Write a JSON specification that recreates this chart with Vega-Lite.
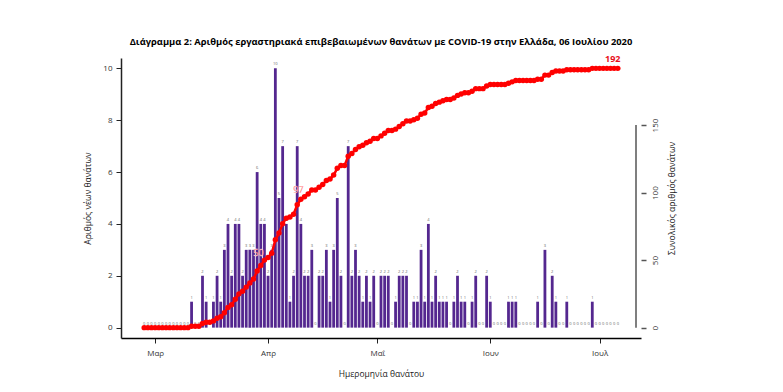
{
  "$schema": "https://vega.github.io/schema/vega-lite/v6.json",
  "autosize": {"type": "none"},
  "padding": {"left": 121, "top": 58, "right": 142, "bottom": 54},
  "width": 520,
  "height": 280,
  "title": {
    "text": "Διάγραμμα 2: Αριθμός εργαστηριακά επιβεβαιωμένων θανάτων με COVID-19 στην Ελλάδα, 06 Ιουλίου 2020",
    "font": "Open Sans",
    "fontSize": 9.4,
    "fontWeight": "bold",
    "color": "#000",
    "anchor": "middle",
    "offset": 8
  },
  "data": {
    "values": [
      {"d": "2020-02-27", "n": 0, "c": 0, "lab": ""},
      {"d": "2020-02-28", "n": 0, "c": 0, "lab": ""},
      {"d": "2020-02-29", "n": 0, "c": 0, "lab": ""},
      {"d": "2020-03-01", "n": 0, "c": 0, "lab": ""},
      {"d": "2020-03-02", "n": 0, "c": 0, "lab": ""},
      {"d": "2020-03-03", "n": 0, "c": 0, "lab": ""},
      {"d": "2020-03-04", "n": 0, "c": 0, "lab": ""},
      {"d": "2020-03-05", "n": 0, "c": 0, "lab": ""},
      {"d": "2020-03-06", "n": 0, "c": 0, "lab": ""},
      {"d": "2020-03-07", "n": 0, "c": 0, "lab": ""},
      {"d": "2020-03-08", "n": 0, "c": 0, "lab": ""},
      {"d": "2020-03-09", "n": 0, "c": 0, "lab": ""},
      {"d": "2020-03-10", "n": 0, "c": 0, "lab": ""},
      {"d": "2020-03-11", "n": 1, "c": 1, "lab": ""},
      {"d": "2020-03-12", "n": 0, "c": 1, "lab": ""},
      {"d": "2020-03-13", "n": 0, "c": 1, "lab": ""},
      {"d": "2020-03-14", "n": 2, "c": 3, "lab": ""},
      {"d": "2020-03-15", "n": 1, "c": 4, "lab": ""},
      {"d": "2020-03-16", "n": 0, "c": 4, "lab": ""},
      {"d": "2020-03-17", "n": 1, "c": 5, "lab": ""},
      {"d": "2020-03-18", "n": 2, "c": 7, "lab": ""},
      {"d": "2020-03-19", "n": 1, "c": 8, "lab": ""},
      {"d": "2020-03-20", "n": 3, "c": 11, "lab": ""},
      {"d": "2020-03-21", "n": 4, "c": 15, "lab": ""},
      {"d": "2020-03-22", "n": 2, "c": 17, "lab": ""},
      {"d": "2020-03-23", "n": 4, "c": 21, "lab": ""},
      {"d": "2020-03-24", "n": 4, "c": 25, "lab": ""},
      {"d": "2020-03-25", "n": 2, "c": 27, "lab": ""},
      {"d": "2020-03-26", "n": 3, "c": 30, "lab": ""},
      {"d": "2020-03-27", "n": 3, "c": 33, "lab": ""},
      {"d": "2020-03-28", "n": 3, "c": 36, "lab": ""},
      {"d": "2020-03-29", "n": 6, "c": 42, "lab": ""},
      {"d": "2020-03-30", "n": 4, "c": 46, "lab": ""},
      {"d": "2020-03-31", "n": 4, "c": 50, "lab": "50"},
      {"d": "2020-04-01", "n": 2, "c": 52, "lab": ""},
      {"d": "2020-04-02", "n": 3, "c": 55, "lab": ""},
      {"d": "2020-04-03", "n": 10, "c": 65, "lab": ""},
      {"d": "2020-04-04", "n": 5, "c": 70, "lab": ""},
      {"d": "2020-04-05", "n": 7, "c": 77, "lab": ""},
      {"d": "2020-04-06", "n": 4, "c": 81, "lab": ""},
      {"d": "2020-04-07", "n": 1, "c": 82, "lab": ""},
      {"d": "2020-04-08", "n": 2, "c": 84, "lab": ""},
      {"d": "2020-04-09", "n": 7, "c": 91, "lab": ""},
      {"d": "2020-04-10", "n": 4, "c": 95, "lab": ""},
      {"d": "2020-04-11", "n": 2, "c": 97, "lab": "97"},
      {"d": "2020-04-12", "n": 2, "c": 99, "lab": ""},
      {"d": "2020-04-13", "n": 3, "c": 102, "lab": ""},
      {"d": "2020-04-14", "n": 0, "c": 102, "lab": ""},
      {"d": "2020-04-15", "n": 2, "c": 104, "lab": ""},
      {"d": "2020-04-16", "n": 2, "c": 106, "lab": ""},
      {"d": "2020-04-17", "n": 3, "c": 109, "lab": ""},
      {"d": "2020-04-18", "n": 1, "c": 110, "lab": ""},
      {"d": "2020-04-19", "n": 3, "c": 113, "lab": ""},
      {"d": "2020-04-20", "n": 5, "c": 118, "lab": ""},
      {"d": "2020-04-21", "n": 2, "c": 120, "lab": ""},
      {"d": "2020-04-22", "n": 0, "c": 120, "lab": ""},
      {"d": "2020-04-23", "n": 7, "c": 127, "lab": ""},
      {"d": "2020-04-24", "n": 2, "c": 129, "lab": ""},
      {"d": "2020-04-25", "n": 3, "c": 132, "lab": ""},
      {"d": "2020-04-26", "n": 2, "c": 134, "lab": ""},
      {"d": "2020-04-27", "n": 1, "c": 135, "lab": ""},
      {"d": "2020-04-28", "n": 2, "c": 137, "lab": ""},
      {"d": "2020-04-29", "n": 1, "c": 138, "lab": ""},
      {"d": "2020-04-30", "n": 2, "c": 140, "lab": ""},
      {"d": "2020-05-01", "n": 0, "c": 140, "lab": ""},
      {"d": "2020-05-02", "n": 2, "c": 142, "lab": ""},
      {"d": "2020-05-03", "n": 2, "c": 144, "lab": ""},
      {"d": "2020-05-04", "n": 2, "c": 146, "lab": ""},
      {"d": "2020-05-05", "n": 0, "c": 146, "lab": ""},
      {"d": "2020-05-06", "n": 1, "c": 147, "lab": ""},
      {"d": "2020-05-07", "n": 2, "c": 149, "lab": ""},
      {"d": "2020-05-08", "n": 2, "c": 151, "lab": ""},
      {"d": "2020-05-09", "n": 2, "c": 153, "lab": ""},
      {"d": "2020-05-10", "n": 0, "c": 153, "lab": ""},
      {"d": "2020-05-11", "n": 1, "c": 154, "lab": ""},
      {"d": "2020-05-12", "n": 1, "c": 155, "lab": ""},
      {"d": "2020-05-13", "n": 3, "c": 158, "lab": ""},
      {"d": "2020-05-14", "n": 1, "c": 159, "lab": ""},
      {"d": "2020-05-15", "n": 4, "c": 163, "lab": ""},
      {"d": "2020-05-16", "n": 1, "c": 164, "lab": ""},
      {"d": "2020-05-17", "n": 2, "c": 166, "lab": ""},
      {"d": "2020-05-18", "n": 1, "c": 167, "lab": ""},
      {"d": "2020-05-19", "n": 1, "c": 168, "lab": ""},
      {"d": "2020-05-20", "n": 1, "c": 169, "lab": ""},
      {"d": "2020-05-21", "n": 0, "c": 169, "lab": ""},
      {"d": "2020-05-22", "n": 1, "c": 170, "lab": ""},
      {"d": "2020-05-23", "n": 2, "c": 172, "lab": ""},
      {"d": "2020-05-24", "n": 1, "c": 173, "lab": ""},
      {"d": "2020-05-25", "n": 1, "c": 174, "lab": ""},
      {"d": "2020-05-26", "n": 0, "c": 174, "lab": ""},
      {"d": "2020-05-27", "n": 1, "c": 175, "lab": ""},
      {"d": "2020-05-28", "n": 2, "c": 177, "lab": ""},
      {"d": "2020-05-29", "n": 0, "c": 177, "lab": ""},
      {"d": "2020-05-30", "n": 0, "c": 177, "lab": ""},
      {"d": "2020-05-31", "n": 2, "c": 179, "lab": ""},
      {"d": "2020-06-01", "n": 1, "c": 180, "lab": ""},
      {"d": "2020-06-02", "n": 0, "c": 180, "lab": ""},
      {"d": "2020-06-03", "n": 0, "c": 180, "lab": ""},
      {"d": "2020-06-04", "n": 0, "c": 180, "lab": ""},
      {"d": "2020-06-05", "n": 0, "c": 180, "lab": ""},
      {"d": "2020-06-06", "n": 1, "c": 181, "lab": ""},
      {"d": "2020-06-07", "n": 1, "c": 182, "lab": ""},
      {"d": "2020-06-08", "n": 1, "c": 183, "lab": ""},
      {"d": "2020-06-09", "n": 0, "c": 183, "lab": ""},
      {"d": "2020-06-10", "n": 0, "c": 183, "lab": ""},
      {"d": "2020-06-11", "n": 0, "c": 183, "lab": ""},
      {"d": "2020-06-12", "n": 0, "c": 183, "lab": ""},
      {"d": "2020-06-13", "n": 0, "c": 183, "lab": ""},
      {"d": "2020-06-14", "n": 1, "c": 184, "lab": ""},
      {"d": "2020-06-15", "n": 0, "c": 184, "lab": ""},
      {"d": "2020-06-16", "n": 3, "c": 187, "lab": ""},
      {"d": "2020-06-17", "n": 0, "c": 187, "lab": ""},
      {"d": "2020-06-18", "n": 2, "c": 189, "lab": ""},
      {"d": "2020-06-19", "n": 1, "c": 190, "lab": ""},
      {"d": "2020-06-20", "n": 0, "c": 190, "lab": ""},
      {"d": "2020-06-21", "n": 0, "c": 190, "lab": ""},
      {"d": "2020-06-22", "n": 1, "c": 191, "lab": ""},
      {"d": "2020-06-23", "n": 0, "c": 191, "lab": ""},
      {"d": "2020-06-24", "n": 0, "c": 191, "lab": ""},
      {"d": "2020-06-25", "n": 0, "c": 191, "lab": ""},
      {"d": "2020-06-26", "n": 0, "c": 191, "lab": ""},
      {"d": "2020-06-27", "n": 0, "c": 191, "lab": ""},
      {"d": "2020-06-28", "n": 0, "c": 191, "lab": ""},
      {"d": "2020-06-29", "n": 1, "c": 192, "lab": ""},
      {"d": "2020-06-30", "n": 0, "c": 192, "lab": ""},
      {"d": "2020-07-01", "n": 0, "c": 192, "lab": ""},
      {"d": "2020-07-02", "n": 0, "c": 192, "lab": ""},
      {"d": "2020-07-03", "n": 0, "c": 192, "lab": ""},
      {"d": "2020-07-04", "n": 0, "c": 192, "lab": ""},
      {"d": "2020-07-05", "n": 0, "c": 192, "lab": ""},
      {"d": "2020-07-06", "n": 0, "c": 192, "lab": "192"}
    ]
  },
  "encoding": {
    "x": {
      "field": "d",
      "type": "temporal",
      "scale": {
        "type": "utc",
        "domain": ["2020-02-22", "2020-07-11"]
      },
      "axis": {
        "values": ["2020-03-01", "2020-04-01", "2020-05-01", "2020-06-01", "2020-07-01"],
        "labelExpr": "['Ιαν','Φεβ','Μαρ','Απρ','Μαΐ','Ιουν','Ιουλ','Αυγ'][utcmonth(datum.value)]",
        "title": "Ημερομηνία θανάτου",
        "tickSize": 5,
        "labelPadding": 6,
        "titlePadding": 12,
        "domainColor": "#000",
        "domainWidth": 1.5,
        "labelFlush": false,
        "labelOverlap": false
      }
    }
  },
  "layer": [
    {
      "layer": [
        {
          "mark": {"type": "bar", "color": "#54278f", "size": 2.8},
          "encoding": {
            "y": {
              "field": "n",
              "type": "quantitative",
              "scale": {"domain": [-0.4, 10.4], "nice": false, "zero": false},
              "axis": {
                "values": [0, 2, 4, 6, 8, 10],
                "labelAngle": 0,
                "tickSize": 5,
                "labelPadding": 4,
                "title": "Αριθμός νέων θανάτων",
                "titlePadding": 10,
                "domainColor": "#222",
                "domainWidth": 1.5
              }
            },
            "y2": {"datum": 0}
          }
        },
        {
          "mark": {"type": "text", "fontSize": 4, "color": "#666", "baseline": "bottom", "dy": -2},
          "encoding": {
            "y": {"field": "n", "type": "quantitative"},
            "text": {"field": "n", "type": "quantitative"}
          }
        }
      ]
    },
    {
      "layer": [
        {
          "mark": {"type": "line", "color": "#ff0000", "strokeWidth": 2.5},
          "encoding": {
            "y": {
              "field": "c",
              "type": "quantitative",
              "scale": {"domain": [-7.68, 199.68], "nice": false, "zero": false},
              "axis": {
                "orient": "right",
                "values": [0, 50, 100, 150],
                "labelAngle": 270,
                "labelAlign": "center",
                "labelBaseline": "top",
                "tickSize": 5,
                "labelPadding": 5,
                "domain": false,
                "tickColor": "#555",
                "tickWidth": 1.5,
                "title": "Συνολικός αριθμός θανάτων",
                "titleAngle": 270,
                "titleBaseline": "top",
                "titlePadding": 8
              }
            }
          }
        },
        {
          "mark": {"type": "circle", "color": "#ff0000", "size": 30, "opacity": 1},
          "encoding": {"y": {"field": "c", "type": "quantitative"}}
        },
        {
          "transform": [{"filter": "datum.lab == '50' || datum.lab == '97'"}],
          "mark": {"type": "text", "color": "#ff0000", "fontSize": 9, "dx": -6, "dy": -7, "stroke": "#ffffff", "strokeWidth": 0.3},
          "encoding": {
            "y": {"field": "c", "type": "quantitative"},
            "text": {"field": "lab", "type": "nominal"}
          }
        },
        {
          "transform": [{"filter": "datum.lab == '192'"}],
          "mark": {"type": "text", "color": "#e8101a", "fontSize": 9, "fontWeight": "bold", "dx": -5, "dy": -9},
          "encoding": {
            "y": {"field": "c", "type": "quantitative"},
            "text": {"field": "lab", "type": "nominal"}
          }
        },
        {
          "data": {"values": [{"e": "2020-07-11", "lo": 0, "hi": 150}]},
          "mark": {"type": "rule", "color": "#555", "strokeWidth": 1.5},
          "encoding": {
            "x": {"field": "e", "type": "temporal"},
            "y": {"field": "lo", "type": "quantitative"},
            "y2": {"field": "hi"}
          }
        }
      ]
    }
  ],
  "resolve": {"scale": {"y": "independent"}},
  "config": {
    "view": {"stroke": null},
    "font": "Open Sans",
    "axis": {
      "grid": false,
      "labelFont": "Open Sans",
      "titleFont": "Open Sans",
      "labelFontSize": 8,
      "titleFontSize": 8.5,
      "titleFontWeight": "normal",
      "labelColor": "#333",
      "titleColor": "#222",
      "tickColor": "#222"
    }
  }
}
